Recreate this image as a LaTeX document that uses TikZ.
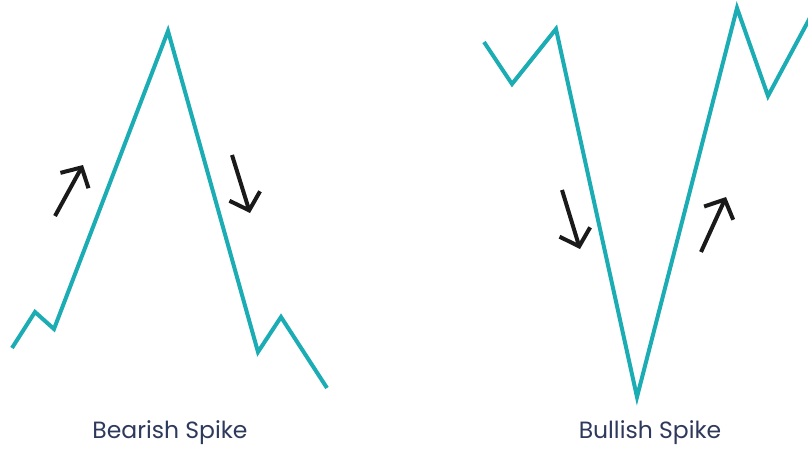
\documentclass[tikz,border=0pt]{standalone}
\usepackage{fontspec}
\setmainfont{Poppins}
\usetikzlibrary{arrows.meta}
\definecolor{teal1}{HTML}{1CADB4}
\definecolor{navy1}{HTML}{2E3A5C}
\definecolor{ink}{HTML}{1A1A1A}
\tikzset{
  chartline/.style={draw=teal1, line width=4pt, line join=miter, miter limit=20},
  trendarrow/.style={draw=ink, line width=4pt, -{Straight Barb[length=15pt, width=32pt, line width=4pt]}},
  caption/.style={text=navy1, font=\fontsize{23.5}{28}\selectfont, inner sep=0pt}
}
\begin{document}
\begin{tikzpicture}[x=1pt,y=-1pt]
\useasboundingbox[fill=white] (0,0) rectangle (808,449);
% Bearish spike
\coordinate (a1) at (12,348);
\coordinate (a2) at (35,312);
\coordinate (a3) at (54,329);
\coordinate (a4) at (168,31);
\coordinate (a5) at (258,352);
\coordinate (a6) at (281,317);
\coordinate (a7) at (327,388);
\draw[chartline] (a1) -- (a2) -- (a3) -- (a4) -- (a5) -- (a6) -- (a7);
% Bullish spike
\coordinate (b1) at (484,42);
\coordinate (b2) at (512,84);
\coordinate (b3) at (556,29);
\coordinate (b4) at (637,397);
\coordinate (b5) at (737,8);
\coordinate (b6) at (768,96);
\coordinate (b7) at (812,14);
\draw[chartline] (b1) -- (b2) -- (b3) -- (b4) -- (b5) -- (b6) -- (b7);
% arrows
\coordinate (r1s) at (55,216);
\coordinate (r1e) at (83,165);
\coordinate (r2s) at (232,155);
\coordinate (r2e) at (250,213);
\coordinate (r3s) at (562,190);
\coordinate (r3e) at (580,249);
\coordinate (r4s) at (701,252);
\coordinate (r4e) at (726,197);
\draw[trendarrow] (r1s) -- (r1e);
\draw[trendarrow] (r2s) -- (r2e);
\draw[trendarrow] (r3s) -- (r3e);
\draw[trendarrow] (r4s) -- (r4e);
% captions
\node[caption] (bear) at (170,433) {Bearish Spike};
\node[caption] (bull) at (650,433) {Bullish Spike};
\end{tikzpicture}
\end{document}
